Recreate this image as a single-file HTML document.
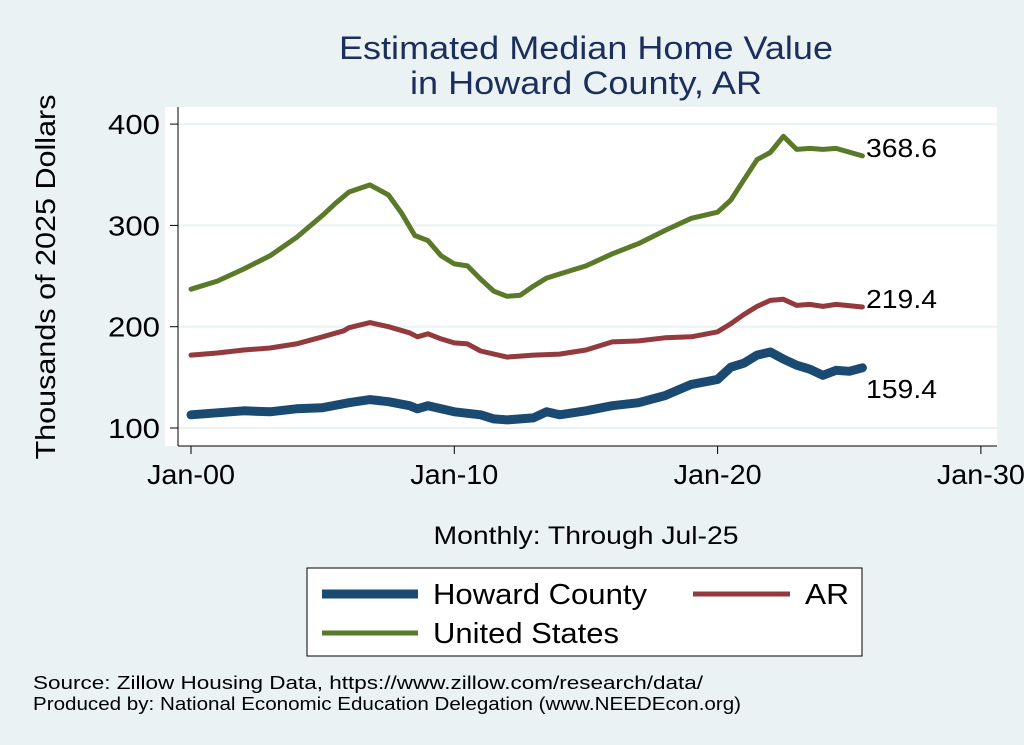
<!DOCTYPE html>
<html><head><meta charset="utf-8"><style>
body{margin:0;background:#eaf2f3;}
svg{display:block;font-family:"Liberation Sans",Arial,sans-serif;}
</style></head><body>
<svg id="c" width="1024" height="745">
<rect x="0" y="0" width="1024" height="745" fill="#eaf2f3"/>
<rect x="165" y="107" width="832" height="339" fill="#ffffff"/>
<text x="586" y="59" text-anchor="middle" font-size="32" fill="#1c2e5c" textLength="494" lengthAdjust="spacingAndGlyphs">Estimated Median Home Value</text>
<text x="586" y="94" text-anchor="middle" font-size="32" fill="#1c2e5c" textLength="352" lengthAdjust="spacingAndGlyphs">in Howard County, AR</text>
<text transform="translate(55,277) rotate(-90)" text-anchor="middle" font-size="28" fill="#000" textLength="365" lengthAdjust="spacingAndGlyphs">Thousands of 2025 Dollars</text>
<text x="586" y="544" text-anchor="middle" font-size="25" fill="#000" textLength="305" lengthAdjust="spacingAndGlyphs">Monthly: Through Jul-25</text>
<g id="grid"></g><g id="axes"></g><g id="series"></g>
<rect x="307" y="568" width="555" height="88" fill="#fff" stroke="#000" stroke-width="1"/>
<line x1="322" y1="594" x2="418" y2="594" stroke="#1a4a72" stroke-width="9"/>
<text x="433" y="604" font-size="29" textLength="214" lengthAdjust="spacingAndGlyphs">Howard County</text>
<line x1="693" y1="594" x2="790" y2="594" stroke="#933a3e" stroke-width="5"/>
<text x="805" y="604" font-size="29" textLength="44" lengthAdjust="spacingAndGlyphs">AR</text>
<line x1="322" y1="633" x2="418" y2="633" stroke="#5a7a2a" stroke-width="5"/>
<text x="433" y="643" font-size="29" textLength="186" lengthAdjust="spacingAndGlyphs">United States</text>
<text x="33" y="689" font-size="18" textLength="670" lengthAdjust="spacingAndGlyphs">Source: Zillow Housing Data, https://www.zillow.com/research/data/</text>
<text x="33" y="710" font-size="18" textLength="708" lengthAdjust="spacingAndGlyphs">Produced by: National Economic Education Delegation (www.NEEDEcon.org)</text>
</svg>
<script>
const yTicks=[100,200,300,400];
const xTicks=[2000,2010,2020,2030];
const xTickLabels=["Jan-00","Jan-10","Jan-20","Jan-30"];
const usX=[2000,2001,2002,2003,2004,2005,2005.5,2006,2006.8,2007.5,2008,2008.5,2009,2009.5,2010,2010.5,2011,2011.5,2012,2012.5,2013,2013.5,2014,2015,2016,2017,2018,2019,2020,2020.5,2021,2021.5,2022,2022.5,2023,2023.5,2024,2024.5,2025.5];
const usY=[237,245,257,270,288,310,322,333,340,330,312,290,285,270,262,260,247,235,230,231,240,248,252,260,272,282,295,307,313,325,345,365,372,388,375,376,375,376,368.6];
const arX=[2000,2001,2002,2003,2004,2005,2005.8,2006,2006.8,2007.5,2008.3,2008.6,2009,2009.5,2010,2010.5,2011,2012,2012.5,2013,2014,2015,2016,2017,2018,2019,2020,2020.5,2021,2021.5,2022,2022.5,2023,2023.5,2024,2024.5,2025.5];
const arY=[172,174,177,179,183,190,196,199,204,200,194,190,193,188,184,183,176,170,171,172,173,177,185,186,189,190,195,203,212,220,226,227,221,222,220,222,219.4];
const hoX=[2000,2001,2002,2003,2004,2005,2006,2006.8,2007.5,2008.3,2008.6,2009,2010,2011,2011.5,2012,2013,2013.5,2014,2015,2016,2017,2018,2019,2020,2020.5,2021,2021.5,2022,2022.5,2023,2023.5,2024,2024.5,2025,2025.5];
const hoY=[113,115,117,116,119,120,125,128,126,122,119,122,116,113,109,108,110,116,113,117,122,125,132,143,148,160,164,172,175,168,162,158,152,157,156,159.4];
const labels=["368.6","219.4","159.4"];
const X=v=>191+(v-2000)*26.33;
const Y=v=>428-(v-100)*1.013;
const NS="http://www.w3.org/2000/svg";
function mk(p,t,a){const e=document.createElementNS(NS,t);for(const k in a)e.setAttribute(k,a[k]);document.getElementById(p).appendChild(e);return e;}
yTicks.forEach(t=>{
 const g=mk("grid","line",{x1:178,x2:997,y1:Y(t),y2:Y(t),stroke:"#eaf2f3","stroke-width":2});
 
 
 const k=mk("axes","line",{x1:170,x2:178,y1:Y(t),y2:Y(t),stroke:"#000"});
 
 
 const l=mk("axes","text",{x:160,y:Y(t)+10,"text-anchor":"end","font-size":28,textLength:52,lengthAdjust:"spacingAndGlyphs"});
 l.textContent=t;
 
 
});
const ya=mk("axes","line",{x1:178,x2:178,y1:107,y2:446,stroke:"#000"});


const xa=mk("axes","line",{x1:178,x2:997,y1:446,y2:446,stroke:"#000"});


xTicks.forEach((t,i)=>{
 const k=mk("axes","line",{x1:X(t),x2:X(t),y1:446,y2:454,stroke:"#000"});
 
 
 const l=mk("axes","text",{x:X(t),y:484,"text-anchor":"middle","font-size":28,textLength:88,lengthAdjust:"spacingAndGlyphs"});
 l.textContent=xTickLabels[i];
 
 
});
function line(xs,ys,col,w,name){
 const d=xs.map((x,i)=>(i?"L":"M")+X(x).toFixed(1)+","+Y(ys[i]).toFixed(1)).join("");
 const p=mk("series","path",{d:d,fill:"none",stroke:col,"stroke-width":w,"stroke-linejoin":"round","stroke-linecap":"round"});
 
 
}
line(usX,usY,"#5a7a2a",5,"line-united-states");
line(arX,arY,"#933a3e",5,"line-ar");
line(hoX,hoY,"#1a4a72",9,"line-howard-county");
const endY=[usY[usY.length-1]+9,arY[arY.length-1]+9,hoY[hoY.length-1]-20];
endY.forEach((v,i)=>{
 const t=mk("series","text",{x:866,y:Y(v)+10,"font-size":26,textLength:71,lengthAdjust:"spacingAndGlyphs"});
 t.textContent=labels[i];
 
 
});
</script>
</body></html>
